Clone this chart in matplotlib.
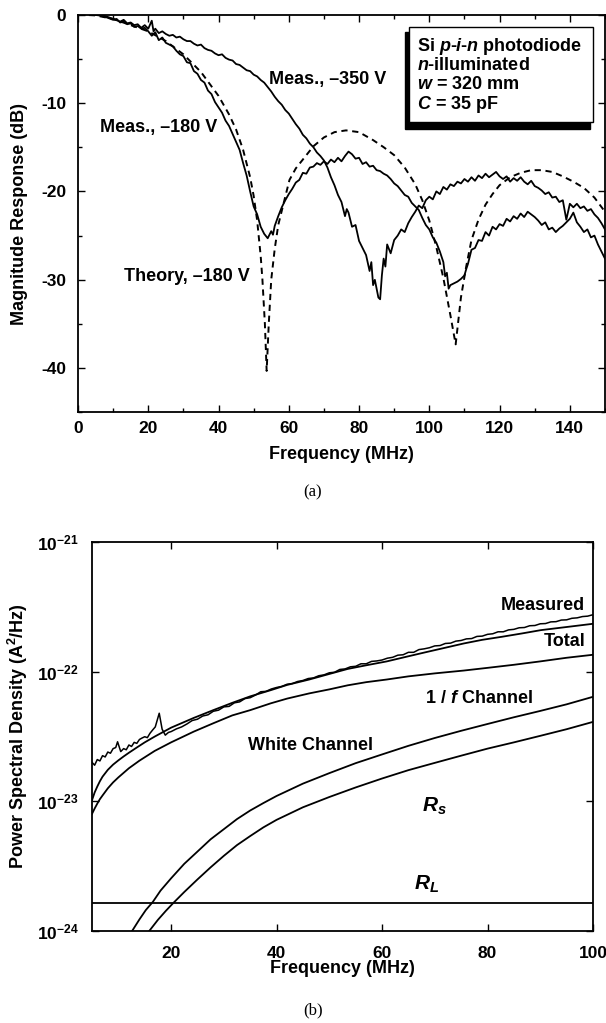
import matplotlib
matplotlib.use('Agg')
import matplotlib.pyplot as plt
import numpy as np
from matplotlib.patches import Rectangle
from matplotlib.ticker import MultipleLocator, FixedLocator, FuncFormatter, NullLocator

plt.rcParams['font.family'] = ['Liberation Sans', 'DejaVu Sans']
plt.rcParams['font.weight'] = 'bold'
plt.rcParams['mathtext.fontset'] = 'custom'
plt.rcParams['mathtext.rm'] = 'Liberation Sans:bold'
plt.rcParams['mathtext.bf'] = 'Liberation Sans:bold'
plt.rcParams['mathtext.it'] = 'Liberation Sans:bold:italic'
plt.rcParams['axes.unicode_minus'] = False

# ---------------- Panel (a) data: magnitude response (dB) ----------------
f_m180 = [0, 2, 4, 6, 8, 10, 11, 12, 13, 14, 15, 16, 17, 18, 19, 20, 21, 22, 23, 24,
          25, 26, 27, 28, 29, 30, 31, 32, 33, 34, 35, 36, 37, 38, 39, 40, 41, 42, 43, 44,
          45, 46, 47, 48, 49, 50, 51, 52, 53, 54, 55, 55.5, 56, 57, 58, 59, 60, 61, 62, 63,
          64, 65, 66, 67, 68, 69, 70, 71, 72, 73, 74, 75, 76, 77, 78, 79, 80, 81, 82, 83,
          84, 85, 86, 87, 88, 89, 90, 91, 92, 93, 94, 95, 96, 97, 98, 99, 100, 101, 102, 103,
          104, 104.5, 105, 105.5, 106, 107, 108, 109, 110, 110.5, 111, 112, 113, 114, 115, 116,
          117, 118, 119, 120, 121, 122, 123, 124, 125, 126, 127, 128, 129, 130, 131, 132, 133,
          134, 135, 136, 137, 138, 139, 140, 141, 142, 143, 144, 145, 146, 147, 148, 149, 150]
db_m180 = [0.0, 0.1, 0.0, -0.1, -0.3, -0.6, -0.5, -0.9, -0.8, -1.1, -1.0, -1.4, -1.3, -1.6, -1.5,
           -1.9, -2.4, -2.0, -2.9, -2.6, -3.2, -3.4, -3.6, -4.1, -4.5, -4.7, -5.4, -5.5, -6.4,
           -6.7, -7.4, -7.7, -8.6, -9.0, -9.9, -10.5, -11.1, -12.0, -12.6, -13.5, -14.4, -15.3,
           -16.8, -18.2, -20.0, -21.7, -22.6, -24.0, -24.8, -25.3, -24.5, -24.9, -23.9, -22.8,
           -21.8, -21.0, -20.3, -19.7, -19.0, -18.7, -17.9, -18.0, -17.3, -17.2, -16.8, -17.0,
           -16.6, -16.9, -16.4, -16.7, -16.2, -16.6, -16.0, -15.5, -15.8, -16.3, -16.2, -16.9,
           -16.7, -17.2, -17.1, -17.6, -17.7, -18.0, -18.2, -18.6, -19.1, -19.4, -19.9, -20.4,
           -20.6, -21.3, -21.7, -22.1, -23.0, -23.8, -24.3, -25.2, -25.8, -26.8, -28.0, -29.6,
           -29.2, -31.0, -30.6, -30.4, -30.2, -29.9, -29.5, -28.8, -28.2, -26.6, -26.4, -25.5,
           -25.6, -24.6, -25.0, -24.0, -24.3, -23.7, -23.9, -23.1, -23.4, -22.8, -23.1, -22.5,
           -22.9, -22.3, -22.6, -22.9, -23.3, -23.8, -23.5, -24.3, -24.1, -24.6, -24.2, -23.9,
           -23.5, -23.1, -22.4, -23.5, -24.0, -24.6, -24.3, -25.2, -25.0, -26.0, -26.8, -27.6]

f_m350 = [0, 2, 4, 6, 8, 10, 12, 13, 14, 15, 16, 17, 18, 19, 20, 21, 21.5, 22, 23, 24, 25,
          26, 27, 28, 29, 30, 31, 32, 33, 34, 35, 36, 37, 38, 39, 40, 41, 42, 43, 44, 45, 46,
          47, 48, 49, 50, 51, 52, 53, 54, 55, 56, 57, 58, 59, 60, 61, 62, 63, 64, 65, 66, 67,
          68, 69, 70, 71, 72, 73, 74, 75, 76, 76.5, 77, 78, 79, 80, 81, 82, 83, 83.5, 84, 84.5,
          85, 85.5, 86, 86.5, 87, 87.5, 88, 89, 90, 91, 92, 93, 94, 95, 96, 97, 98, 99, 100,
          101, 102, 103, 104, 105, 106, 107, 108, 109, 110, 111, 112, 113, 114, 115, 116, 117,
          118, 119, 120, 121, 122, 123, 124, 125, 126, 127, 128, 129, 130, 131, 132, 133, 134,
          135, 136, 137, 138, 139, 140, 141, 142, 143, 144, 145, 146, 147, 148, 149, 150]
db_m350 = [0.0, 0.1, 0.1, 0.0, -0.2, -0.5, -0.8, -0.6, -1.0, -0.9, -1.2, -1.1, -1.5, -1.2,
           -1.6, -0.7, -1.9, -1.6, -2.1, -1.9, -2.2, -2.4, -2.3, -2.6, -2.5, -2.8, -3.0, -3.0,
           -3.3, -3.5, -3.4, -3.8, -4.0, -4.1, -4.4, -4.6, -4.5, -4.9, -5.1, -5.2, -5.6, -5.7,
           -6.0, -6.3, -6.4, -6.8, -7.0, -7.4, -7.7, -8.2, -8.7, -9.3, -9.8, -10.2, -10.8,
           -11.2, -11.8, -12.4, -12.9, -13.6, -14.0, -14.6, -15.0, -15.6, -16.0, -16.5, -17.3,
           -18.4, -19.3, -20.4, -21.2, -22.8, -22.0, -22.4, -24.0, -23.8, -25.6, -26.4, -27.2,
           -29.0, -28.0, -30.6, -30.0, -31.0, -32.0, -32.2, -29.5, -27.6, -28.5, -26.0, -27.0,
           -25.5, -25.0, -24.3, -24.6, -23.6, -22.9, -22.3, -21.6, -21.9, -21.0, -20.6, -20.9,
           -20.0, -20.3, -19.5, -19.8, -19.2, -19.4, -18.9, -19.1, -18.6, -18.9, -18.4, -18.8,
           -18.2, -18.5, -18.0, -18.4, -18.1, -17.8, -18.3, -18.6, -18.3, -18.9, -18.5, -18.8,
           -18.4, -18.9, -19.2, -18.8, -19.4, -19.6, -19.9, -20.3, -20.1, -20.7, -20.6, -21.2,
           -21.0, -23.2, -21.4, -21.8, -21.4, -21.9, -21.7, -22.2, -22.0, -22.6, -23.0, -23.6,
           -24.3]

f_theory = [0, 5, 10, 15, 20, 25, 30, 35, 40, 43, 45, 47, 49, 50, 51, 52, 52.5, 53.2, 53.7,
            54.3, 55, 56, 57, 59, 60.2, 62, 64, 67, 70, 73, 76.3, 80, 84, 87, 90, 93, 96, 98,
            100, 102, 104, 106, 107.5, 109, 110.5, 112, 114, 116, 118, 120, 123, 126, 129, 132,
            135, 138, 141, 144, 147, 150]
db_theory = [0.0, -0.1, -0.5, -1.2, -1.9, -3.0, -4.5, -6.5, -9.2, -11.3, -13.0, -15.3, -18.4,
             -20.5, -23.3, -27.3, -30.0, -35.0, -40.3, -35.0, -30.0, -26.5, -23.8, -20.6,
             -18.7, -17.4, -16.4, -14.9, -13.9, -13.3, -13.1, -13.3, -14.2, -15.0, -15.9,
             -17.3, -19.2, -21.0, -23.3, -26.3, -29.8, -34.0, -37.3, -32.0, -28.5, -25.5,
             -23.2, -21.5, -20.3, -19.3, -18.4, -17.9, -17.6, -17.6, -17.8, -18.3, -18.9,
             -19.6, -20.7, -22.3]

# ---------------- Panel (b) data: PSD in units of 1e-23 A^2/Hz ----------------
f_meas = [5, 5.5, 6, 6.5, 7, 7.5, 8, 8.5, 9, 9.5, 9.85, 10.45, 11, 11.5, 12, 12.5, 13, 13.5,
          14, 14.5, 15, 15.5, 16, 16.5, 17, 17.75, 18.3, 18.9, 19.5, 20, 21, 22, 23, 24, 25,
          26, 27, 28, 29, 30, 31, 32, 33, 34, 35, 36, 37, 38, 39, 40, 41, 42, 43, 44, 45, 46,
          47, 48, 49, 50, 51, 52, 53, 54, 55, 56, 57, 58, 59, 60, 61, 62, 63, 64, 65, 66, 67,
          68, 69, 70, 71, 72, 73, 74, 75, 76, 77, 78, 79, 80, 81, 82, 83, 84, 85, 86, 87, 88,
          89, 90, 91, 92, 93, 94, 95, 96, 97, 98, 99, 100]
psd_meas = [2.0, 1.9, 2.1, 2.05, 2.25, 2.2, 2.4, 2.35, 2.55, 2.6, 2.88, 2.42, 2.55, 2.5, 2.72,
            2.65, 2.85, 2.8, 3.0, 3.08, 3.15, 3.1, 3.35, 3.55, 3.75, 4.78, 3.6, 3.24, 3.4,
            3.45, 3.62, 3.75, 3.95, 4.2, 4.3, 4.55, 4.65, 4.95, 5.05, 5.35, 5.4, 5.75, 5.85,
            6.2, 6.3, 6.6, 7.0, 7.05, 7.35, 7.55, 7.7, 8.0, 8.1, 8.4, 8.55, 8.85, 8.95, 9.3,
            9.45, 9.8, 9.9, 10.4, 10.5, 10.9, 11.0, 11.5, 11.5, 12.0, 12.1, 12.3, 12.7, 12.9,
            13.4, 13.5, 14.1, 14.1, 14.8, 15.0, 15.3, 15.8, 15.9, 16.5, 16.6, 17.2, 17.4, 17.9,
            18.0, 18.7, 18.8, 19.4, 19.6, 20.3, 20.3, 21.0, 21.2, 21.8, 21.9, 22.6, 22.7, 23.4,
            23.5, 24.2, 24.3, 25.0, 25.1, 25.8, 26.0, 26.6, 26.8, 27.5]

f_total = [5, 5.5, 6, 6.5, 7, 8, 9, 10, 11, 12, 13.3, 15, 16.9, 20, 24.3, 28, 31.6, 35, 38.9,
           42, 46.2, 50, 53.5, 57, 60.9, 64.5, 68.2, 72, 75.5, 79, 82.8, 86.5, 90.1, 95, 100]
psd_total = [1.02, 1.17, 1.3, 1.43, 1.55, 1.75, 1.92, 2.07, 2.22, 2.37, 2.57, 2.85, 3.16, 3.7,
             4.4, 5.05, 5.75, 6.45, 7.2, 7.9, 8.7, 9.6, 10.5, 11.2, 12.0, 13.0, 14.1, 15.3,
             16.5, 17.6, 18.6, 19.7, 20.9, 22.1, 23.4]

f_onef = [5, 5.5, 6, 6.5, 7, 8, 9, 10, 12, 14, 16.9, 20, 24.3, 28, 31.6, 35, 38.9, 42, 46.2,
          50, 53.5, 57, 60.9, 65, 70, 75.5, 80, 85, 90, 95, 100]
psd_onef = [0.8, 0.88, 0.96, 1.04, 1.11, 1.26, 1.4, 1.53, 1.8, 2.06, 2.45, 2.85, 3.45, 4.0,
            4.6, 5.05, 5.7, 6.2, 6.8, 7.3, 7.85, 8.3, 8.7, 9.2, 9.7, 10.2, 10.7, 11.3, 12.0,
            12.8, 13.5]

f_white = [11, 12.6, 14, 15.2, 16.55, 18, 20, 22.5, 25, 27.5, 30, 32.5, 35, 37.5, 40, 45, 50,
           55, 60, 65, 70, 75, 80, 85, 90, 95, 100]
psd_white = [0.078, 0.10, 0.123, 0.145, 0.168, 0.205, 0.255, 0.33, 0.41, 0.51, 0.61, 0.73,
             0.85, 0.97, 1.1, 1.37, 1.65, 1.97, 2.3, 2.68, 3.08, 3.5, 3.95, 4.45, 4.98, 5.6,
             6.4]

f_rs = [14, 15.85, 17.5, 19, 20.45, 22.5, 25, 27.5, 30, 32.5, 35, 37.5, 40, 45, 50, 55, 60,
        65, 70, 75, 80, 85, 90, 95, 100]
psd_rs = [0.078, 0.10, 0.122, 0.143, 0.165, 0.2, 0.25, 0.31, 0.38, 0.46, 0.54, 0.63, 0.72,
          0.9, 1.08, 1.28, 1.5, 1.74, 1.98, 2.25, 2.55, 2.85, 3.2, 3.6, 4.1]

f_rl = [5, 100]
psd_rl = [0.165, 0.165]

UNIT = 1e-23

# ---------------- Figure ----------------
fig = plt.figure(figsize=(6.06, 10.23), dpi=100)

# Panel (a)
ax1 = fig.add_axes([0.1287, 0.5968, 0.8696, 0.389])
lw = 1.3
ax1.plot(f_m180, db_m180, color='black', lw=lw)
ax1.plot(f_m350, db_m350, color='black', lw=lw)
ax1.plot(f_theory, db_theory, color='black', lw=1.4, linestyle=(0, (3.2, 2.4)))
ax1.set_xlim(0, 150)
ax1.set_ylim(-45, 0)
ax1.xaxis.set_major_locator(MultipleLocator(20))
ax1.xaxis.set_minor_locator(MultipleLocator(10))
ax1.yaxis.set_major_locator(FixedLocator([0, -10, -20, -30, -40]))
ax1.yaxis.set_minor_locator(MultipleLocator(5))
ax1.set_xlabel('Frequency (MHz)', fontsize=13, fontweight='bold')
ax1.set_ylabel('Magnitude Response (dB)', fontsize=13, fontweight='bold')
ax1.xaxis.set_label_coords(0.5, -0.085)
ax1.yaxis.set_label_coords(-0.095, 0.5)
ax1.xaxis.label.set_va('top')

ax1.text(71, -7.4, 'Meas., –350 V', ha='center', va='center', fontsize=13, fontweight='bold')
ax1.text(23, -12.8, 'Meas., –180 V', ha='center', va='center', fontsize=13, fontweight='bold')
ax1.text(31, -29.6, 'Theory, –180 V', ha='center', va='center', fontsize=13, fontweight='bold')

shadow = Rectangle((0.6205, 0.7123), 0.351, 0.2437, transform=ax1.transAxes,
                   facecolor='black', edgecolor='black', zorder=5)
box = Rectangle((0.6286, 0.7299), 0.3485, 0.2387, transform=ax1.transAxes,
                facecolor='white', edgecolor='black', lw=1.0, zorder=6)
ax1.add_patch(shadow)
ax1.add_patch(box)
box_lines = [r'Si $p$-$i$-$n$ photodiode', r'$n$-illuminated', r'$w$ = 320 mm', r'$C$ = 35 pF']
box_y = [0.9083, 0.8606, 0.8116, 0.7638]
for s, yy in zip(box_lines, box_y):
    ax1.text(0.643, yy, s, transform=ax1.transAxes, ha='left', va='baseline',
             fontsize=13, fontweight='bold', zorder=7)

# Panel (b)
ax2 = fig.add_axes([0.1518, 0.0899, 0.8267, 0.3803])
ax2.set_yscale('log')
ax2.plot(f_meas, np.array(psd_meas) * UNIT, color='black', lw=1.1)
ax2.plot(f_total, np.array(psd_total) * UNIT, color='black', lw=lw)
ax2.plot(f_onef, np.array(psd_onef) * UNIT, color='black', lw=lw)
ax2.plot(f_white, np.array(psd_white) * UNIT, color='black', lw=lw)
ax2.plot(f_rs, np.array(psd_rs) * UNIT, color='black', lw=lw)
ax2.plot(f_rl, np.array(psd_rl) * UNIT, color='black', lw=lw)
ax2.set_xlim(5, 100)
ax2.set_ylim(1e-24, 1e-21)
ax2.xaxis.set_major_locator(FixedLocator([20, 40, 60, 80, 100]))
ax2.yaxis.set_major_locator(FixedLocator([1e-24, 1e-23, 1e-22, 1e-21]))
ax2.yaxis.set_minor_locator(NullLocator())
ax2.yaxis.set_major_formatter(FuncFormatter(lambda v, p: r'$10^{%d}$' % int(round(np.log10(v)))))
ax2.set_xlabel('Frequency (MHz)', fontsize=13, fontweight='bold')
ax2.set_ylabel(r'Power Spectral Density (A$^{2}$/Hz)', fontsize=13, fontweight='bold')
ax2.xaxis.set_label_coords(0.5, -0.075)
ax2.yaxis.set_label_coords(-0.124, 0.5)
ax2.xaxis.label.set_va('top')

ax2.text(98.5, 10 ** -21.49, 'Measured', ha='right', va='center', fontsize=13, fontweight='bold')
ax2.text(98.5, 10 ** -21.77, 'Total', ha='right', va='center', fontsize=13, fontweight='bold')
ax2.text(78.3, 10 ** -22.21, r'1 / $f$ Channel', ha='center', va='center', fontsize=13, fontweight='bold')
ax2.text(46.5, 10 ** -22.57, 'White Channel', ha='center', va='center', fontsize=13, fontweight='bold')
ax2.text(70, 10 ** -23.04, r'$R_s$', ha='center', va='center', fontsize=15)
ax2.text(68.5, 10 ** -23.64, r'$R_L$', ha='center', va='center', fontsize=15)

for ax, pad_x, pad_y in ((ax1, 6, 8.5), (ax2, 11, 9.5)):
    ax.tick_params(which='both', direction='in', top=True, right=True,
                   labelsize=12.5, width=1.0)
    ax.tick_params(axis='x', pad=pad_x)
    ax.tick_params(axis='y', pad=pad_y)
    ax.tick_params(which='major', length=5)
    ax.tick_params(which='minor', length=3)
    for lab in ax.get_xticklabels() + ax.get_yticklabels():
        lab.set_fontweight('bold')
    for sp in ax.spines.values():
        sp.set_linewidth(1.3)

fig.text(313 / 606, 1 - 492 / 1023, '(a)', ha='center', va='center', fontsize=12,
         family='Liberation Serif', fontweight='normal')
fig.text(313 / 606, 1 - 1010 / 1023, '(b)', ha='center', va='center', fontsize=12,
         family='Liberation Serif', fontweight='normal')

fig.savefig('out.png', dpi=100)
